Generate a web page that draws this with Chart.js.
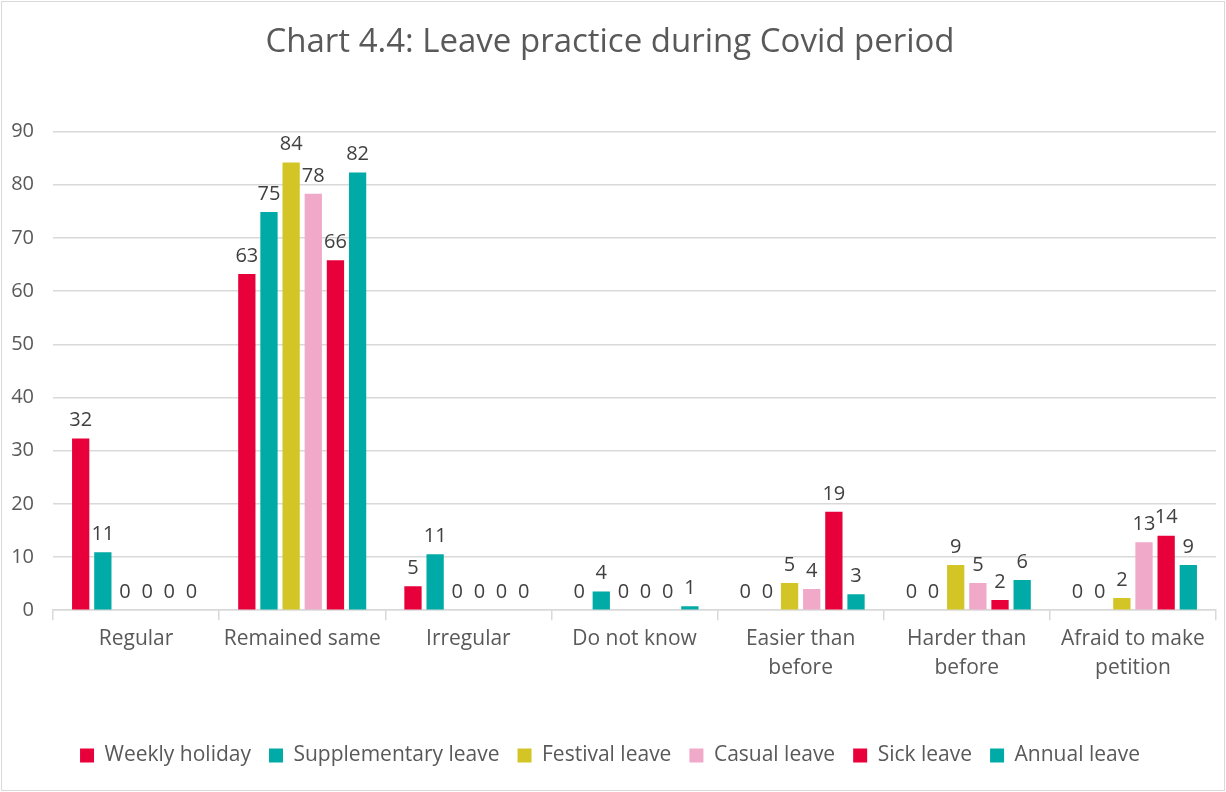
<!DOCTYPE html>
<html lang="en">

<head>
    <meta charset="UTF-8">
    <title>Chart 4.4: Leave practice during Covid period</title>
    <script src="https://cdn.jsdelivr.net/npm/chart.js"></script>
    <style>
        body { margin: 0; background: #fff; }
        #wrap { position: absolute; left: 1px; top: 1px; width: 1222px; height: 788px; border: 1px solid #d9d9d9; }
    </style>
</head>

<body>
    <div id="wrap"><canvas id="leaveChart" width="1222" height="788"></canvas></div>
    <script>
        const categories = ["Regular", "Remained same", "Irregular", "Do not know", ["Easier than", "before"], ["Harder than", "before"], ["Afraid to make", "petition"]];
        const yTicks = [0, 10, 20, 30, 40, 50, 60, 70, 80, 90];

        const weeklyHoliday = [32.3, 63.2, 4.5, 0, 0, 0, 0];
        const supplementaryLeave = [10.9, 74.9, 10.5, 3.5, 0, 0, 0];
        const festivalLeave = [0, 84.2, 0, 0, 5.1, 8.5, 2.3];
        const casualLeave = [0, 78.3, 0, 0, 4.0, 5.1, 12.8];
        const sickLeave = [0, 65.8, 0, 0, 18.5, 1.9, 14.0];
        const annualLeave = [0, 82.3, 0, 0.75, 3.0, 5.7, 8.5];

        const red = "#e8003a", teal = "#00aaa6", yellow = "#d3c526", pink = "#f0a9c8";
        const grey = "#595959";
        const font = "'Open Sans', sans-serif";

        // draws the rounded value above every bar, like the Excel data labels
        const barLabels = {
            id: "barLabels",
            afterDatasetsDraw(chart) {
                const ctx = chart.ctx;
                ctx.save();
                ctx.font = "20px " + font;
                ctx.fillStyle = "#404040";
                ctx.textAlign = "center";
                ctx.textBaseline = "bottom";
                chart.data.datasets.forEach((ds, i) => {
                    chart.getDatasetMeta(i).data.forEach((bar, j) => {
                        ctx.fillText(String(Math.round(ds.data[j])), bar.x, bar.y - 8);
                    });
                });
                ctx.restore();
            }
        };

        const ctx = document.getElementById("leaveChart").getContext("2d");
        const leaveChart = new Chart(ctx, {
            type: "bar",
            data: {
                labels: categories,
                datasets: [
                    { label: "Weekly holiday", data: weeklyHoliday, backgroundColor: red },
                    { label: "Supplementary leave", data: supplementaryLeave, backgroundColor: teal },
                    { label: "Festival leave", data: festivalLeave, backgroundColor: yellow },
                    { label: "Casual leave", data: casualLeave, backgroundColor: pink },
                    { label: "Sick leave", data: sickLeave, backgroundColor: red },
                    { label: "Annual leave", data: annualLeave, backgroundColor: teal }
                ]
            },
            options: {
                responsive: false,
                animation: false,
                categoryPercentage: 0.8,
                barPercentage: 0.78,
                layout: { padding: { left: 2, right: 8, top: 0, bottom: 14 } },
                plugins: {
                    title: {
                        display: true,
                        text: "Chart 4.4: Leave practice during Covid period",
                        color: grey,
                        font: { family: font, size: 33, weight: "normal" },
                        padding: { top: 21, bottom: 69 }
                    },
                    legend: {
                        position: "bottom",
                        labels: {
                            color: grey,
                            font: { family: font, size: 21 },
                            boxWidth: 14,
                            boxHeight: 14,
                            padding: 18
                        }
                    },
                    tooltip: { enabled: false }
                },
                scales: {
                    x: {
                        afterFit: axis => { axis.height += 40; },
                        grid: { offset: true, drawOnChartArea: false, color: "#d9d9d9", tickLength: 10, lineWidth: 1.5 },
                        border: { color: "#d9d9d9", width: 1.5 },
                        ticks: { color: grey, font: { family: font, size: 21, lineHeight: 1.4 }, padding: 4, maxRotation: 0 }
                    },
                    y: {
                        min: 0,
                        max: 90,
                        afterBuildTicks: axis => { axis.ticks = yTicks.map(v => ({ value: v })); },
                        afterFit: axis => { axis.width = 49; },
                        grid: { color: "#d9d9d9", lineWidth: 1.5, drawTicks: false },
                        border: { display: false },
                        ticks: { color: grey, font: { family: font, size: 20 }, padding: 19 }
                    }
                }
            },
            plugins: [barLabels]
        });
    </script>
</body>

</html>
